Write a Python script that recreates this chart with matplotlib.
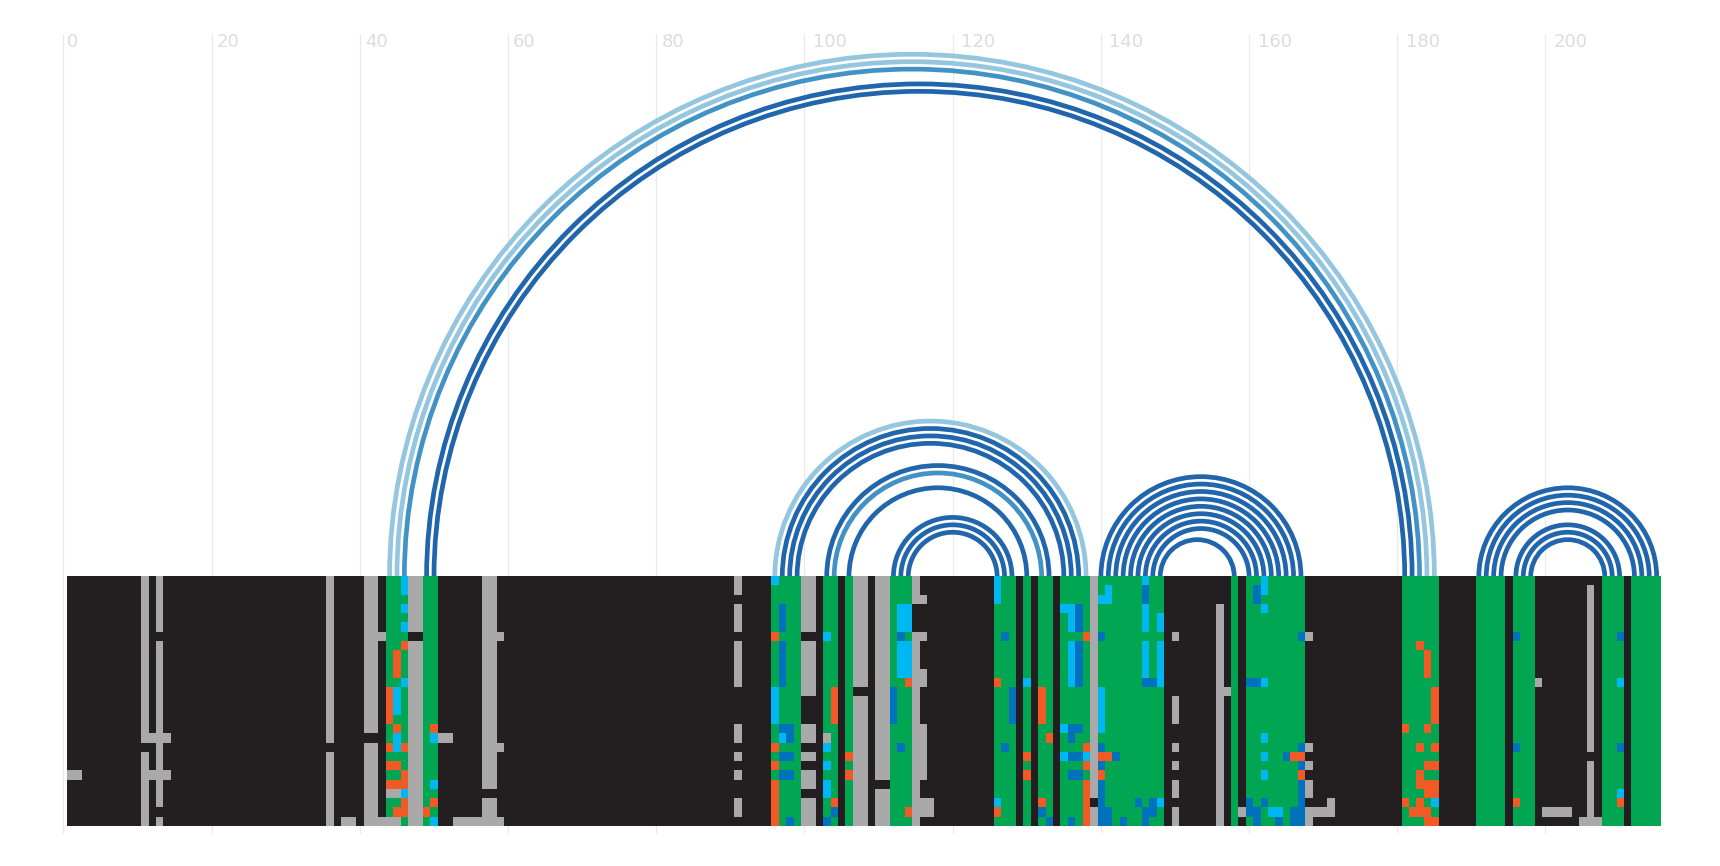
import numpy as np
import matplotlib
matplotlib.use('Agg')
import matplotlib.pyplot as plt
from matplotlib.colors import ListedColormap
from matplotlib.patches import Arc

n_rows = 27
n_cols = 215
ticks = [0, 20, 40, 60, 80, 100, 120, 140, 160, 180, 200]

# cell states
BLACK, GREY, GREEN, ORANGE, CYAN, BLUE = range(6)
cell_colors = ['#231f20', '#a9a9a9', '#00a651', '#f15a24', '#00b8f1', '#0072bc']

# whole columns, (first col, last col)
grey_cols = [(11, 11), (13, 13), (36, 36), (41, 42), (47, 48), (57, 58), (91, 91),
             (100, 101), (107, 108), (110, 111), (115, 115), (139, 139), (156, 156), (206, 206)]
green_cols = [(44, 46), (49, 50), (96, 99), (103, 104), (106, 106), (112, 114), (126, 128),
              (130, 130), (132, 133), (135, 138), (140, 148), (158, 158), (160, 167),
              (181, 185), (191, 194), (196, 198), (208, 210), (212, 215)]

# patches on top, (first row, last row, first col, last col)
black_cells = [(19, 19, 11, 11), (19, 19, 36, 36), (7, 7, 13, 13), (26, 26, 13, 13),
               (18, 18, 41, 42), (7, 7, 47, 48), (24, 24, 57, 58),
               (3, 3, 91, 91), (7, 7, 91, 91), (13, 16, 91, 91), (19, 19, 91, 91),
               (21, 21, 91, 91), (23, 24, 91, 91), (27, 27, 91, 91),
               (7, 7, 100, 101), (14, 16, 100, 101), (19, 19, 100, 101), (21, 21, 100, 101),
               (24, 24, 100, 101), (13, 13, 107, 108), (23, 23, 110, 111), (4, 6, 115, 115),
               (25, 25, 139, 139), (1, 3, 156, 156), (1, 1, 206, 206), (20, 20, 206, 206)]
grey_cells = [(22, 22, 1, 2), (18, 18, 11, 14), (22, 22, 11, 14), (7, 7, 41, 43),
              (27, 27, 38, 39), (27, 27, 41, 45), (18, 18, 51, 52), (27, 27, 53, 59),
              (7, 7, 59, 59), (19, 19, 59, 59), (24, 24, 44, 45), (18, 18, 103, 103),
              (3, 3, 116, 116), (7, 7, 116, 116), (11, 12, 116, 116), (17, 22, 116, 116),
              (25, 26, 116, 117), (7, 7, 150, 150), (14, 16, 150, 150), (19, 19, 150, 150),
              (21, 21, 150, 150), (23, 24, 150, 150), (26, 27, 150, 150), (13, 13, 157, 157),
              (26, 26, 159, 159), (7, 7, 168, 168), (19, 19, 168, 168), (21, 21, 168, 168),
              (23, 24, 168, 168), (27, 27, 168, 168), (26, 26, 168, 171), (25, 25, 171, 171),
              (12, 12, 199, 199), (26, 26, 200, 203), (27, 27, 205, 207)]
orange_cells = [(8, 8, 46, 46), (9, 11, 45, 45), (13, 16, 44, 44), (17, 17, 45, 45),
                (19, 19, 44, 44), (19, 19, 46, 46), (21, 21, 44, 45), (22, 22, 46, 46),
                (23, 23, 44, 46), (25, 25, 46, 46), (26, 26, 45, 46), (17, 17, 50, 50),
                (25, 25, 50, 50), (26, 26, 49, 49), (7, 7, 96, 96), (19, 19, 96, 96),
                (21, 21, 96, 96), (23, 27, 96, 96), (13, 16, 104, 104), (25, 25, 104, 104),
                (20, 20, 106, 106), (22, 22, 106, 106), (12, 12, 114, 114), (26, 26, 114, 114),
                (12, 12, 126, 126), (26, 26, 126, 126), (20, 20, 130, 130), (22, 22, 130, 130),
                (13, 16, 132, 132), (18, 18, 133, 133), (25, 25, 132, 132), (7, 7, 138, 138),
                (19, 19, 138, 138), (21, 21, 138, 138), (23, 27, 138, 138), (20, 20, 140, 141),
                (22, 22, 140, 140), (20, 20, 166, 167), (22, 22, 167, 167), (8, 8, 183, 183),
                (9, 11, 184, 184), (13, 16, 185, 185), (17, 17, 181, 181), (17, 17, 184, 184),
                (19, 19, 183, 183), (19, 19, 185, 185), (21, 21, 184, 185), (22, 22, 183, 183),
                (23, 23, 183, 185), (24, 24, 184, 185), (25, 25, 181, 181), (25, 25, 183, 183),
                (26, 26, 182, 184), (27, 27, 184, 185), (25, 25, 196, 196), (25, 25, 210, 210)]
cyan_cells = [(1, 2, 46, 46), (4, 4, 46, 46), (6, 6, 46, 46), (12, 12, 46, 46), (13, 15, 45, 45),
              (18, 19, 45, 45), (24, 24, 46, 46), (18, 18, 50, 50), (23, 23, 50, 50),
              (27, 27, 50, 50), (1, 1, 96, 96), (13, 16, 96, 96), (18, 18, 97, 97),
              (7, 7, 103, 103), (19, 19, 103, 103), (21, 21, 103, 103), (23, 24, 103, 103),
              (4, 6, 113, 114), (8, 11, 113, 114), (1, 3, 126, 126), (25, 25, 126, 126),
              (12, 12, 130, 130), (4, 4, 135, 136), (5, 6, 136, 136), (8, 12, 136, 136),
              (17, 17, 135, 135), (20, 20, 135, 135), (20, 20, 138, 138), (2, 2, 141, 141),
              (3, 3, 140, 141), (13, 17, 140, 140), (1, 1, 146, 146), (4, 6, 146, 146),
              (8, 11, 146, 146), (5, 6, 148, 148), (8, 12, 148, 148), (25, 25, 148, 148),
              (1, 2, 162, 162), (4, 4, 162, 162), (12, 12, 162, 162), (18, 18, 162, 162),
              (20, 20, 162, 162), (22, 22, 162, 162), (26, 26, 163, 164), (25, 25, 185, 185),
              (12, 12, 210, 210), (24, 24, 210, 210)]
blue_cells = [(4, 6, 97, 97), (8, 12, 97, 97), (17, 17, 97, 98), (18, 18, 98, 98), (20, 20, 97, 98),
              (22, 22, 97, 98), (27, 27, 98, 98), (26, 26, 104, 104), (27, 27, 103, 103),
              (7, 7, 113, 113), (13, 16, 112, 112), (19, 19, 113, 113), (7, 7, 127, 127),
              (13, 16, 128, 128), (19, 19, 127, 127), (26, 26, 132, 132), (27, 27, 133, 133),
              (4, 6, 137, 137), (8, 12, 137, 137), (17, 17, 136, 137), (18, 18, 136, 136),
              (20, 20, 136, 137), (22, 22, 136, 137), (27, 27, 136, 136), (7, 7, 140, 140),
              (19, 19, 140, 140), (21, 21, 140, 140), (23, 25, 140, 140), (26, 27, 140, 141),
              (20, 20, 142, 142), (27, 27, 143, 143), (2, 3, 146, 146), (12, 12, 146, 147),
              (25, 25, 145, 145), (25, 25, 147, 147), (26, 26, 146, 147), (27, 27, 146, 146),
              (3, 3, 161, 161), (2, 2, 161, 161), (12, 12, 160, 161), (7, 7, 167, 167),
              (19, 19, 167, 167), (21, 21, 167, 167), (23, 25, 167, 167), (20, 20, 165, 165),
              (25, 25, 160, 160), (25, 25, 162, 162), (26, 26, 160, 161), (26, 27, 166, 167),
              (27, 27, 161, 161), (27, 27, 164, 164), (7, 7, 196, 196), (19, 19, 196, 196),
              (7, 7, 210, 210), (19, 19, 210, 210)]

# base pairs, one arc per pair
pair_left = [44, 45, 46, 49, 50, 96, 97, 98, 99, 103, 104, 106, 112, 113, 114,
             140, 141, 142, 143, 144, 145, 146, 147, 148,
             191, 192, 193, 194, 196, 197, 198]
pair_right = [185, 184, 183, 182, 181, 138, 137, 136, 135, 133, 132, 130, 128, 127, 126,
              167, 166, 165, 164, 163, 162, 161, 160, 158,
              215, 214, 213, 212, 210, 209, 208]
pair_level = [0, 0, 1, 2, 2, 0, 2, 2, 2, 2, 1, 2, 2, 2, 2,
              2, 2, 2, 2, 2, 2, 2, 2, 2,
              2, 2, 2, 2, 2, 2, 2]
arc_colors = ['#94c6e0', '#4292c6', '#2166ac']

grid = np.zeros((n_rows, n_cols), dtype=int)
for first, last in grey_cols:
    grid[:, first - 1:last] = GREY
for first, last in green_cols:
    grid[:, first - 1:last] = GREEN
patches = [(black_cells, BLACK), (grey_cells, GREY), (orange_cells, ORANGE),
           (cyan_cells, CYAN), (blue_cells, BLUE)]
for cells, state in patches:
    for r1, r2, c1, c2 in cells:
        grid[r1 - 1:r2, c1 - 1:c2] = state

W, H = 1720, 866
unit = 7.41       # pixels per column
x0, y0 = 63.5, 576.7
row_h = 9.25 / unit

fig = plt.figure(figsize=(W / 100, H / 100), dpi=100)
ax = fig.add_axes([0, 0, 1, 1])
ax.axis('off')

ax.vlines(ticks, -n_rows * row_h - 0.85, (y0 - 34) / unit, color='#e9e9e9', lw=0.9, zorder=1)
# label gap grows with the number of digits
label_gap = {1: 3.0, 2: 5.0, 3: 8.5}
for t in ticks:
    ax.text(t + label_gap[len(str(t))] / unit, (y0 - 42) / unit, str(t), color='#dcdcdc',
            fontsize=13, ha='left', va='center', zorder=2)

for l, r, lev in zip(pair_left, pair_right, pair_level):
    span = r - l
    arc = Arc(((l + r) / 2, 0), span, span, theta1=0, theta2=180,
              color=arc_colors[lev], lw=3.4, zorder=3)
    ax.add_patch(arc)

ax.imshow(grid, cmap=ListedColormap(cell_colors), vmin=0, vmax=5, interpolation='nearest',
          extent=(0.5, n_cols + 0.5, -n_rows * row_h, 0), aspect='auto', zorder=4)
ax.set_xlim(-x0 / unit, (W - x0) / unit)
ax.set_ylim(-(H - y0) / unit, y0 / unit)

plt.savefig('out.png', dpi=100)
